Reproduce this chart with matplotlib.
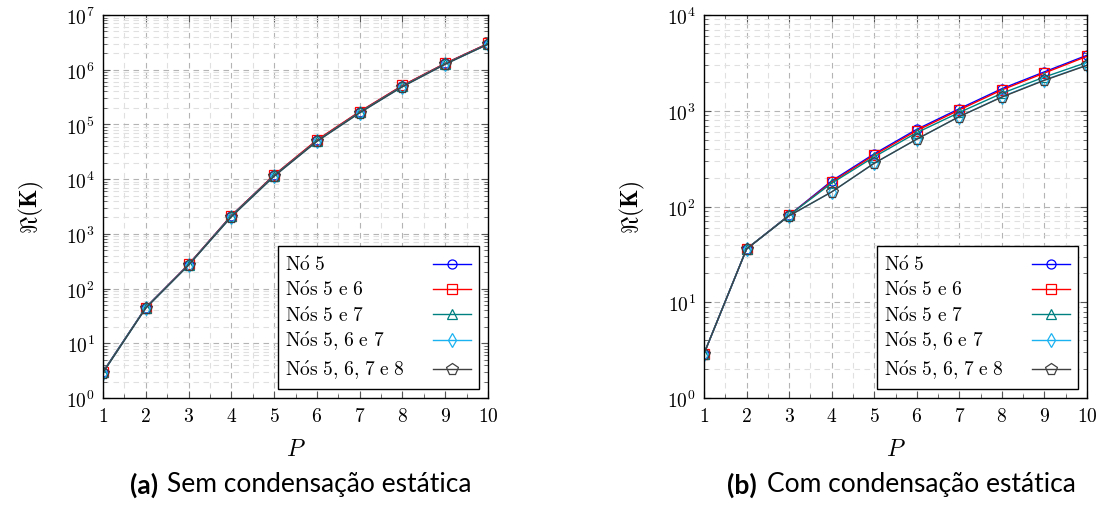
import numpy as np
import matplotlib
matplotlib.use("Agg")
import matplotlib.pyplot as plt
from matplotlib.ticker import LogLocator, FixedLocator, NullFormatter

plt.rcParams['mathtext.fontset'] = 'cm'
plt.rcParams['font.family'] = ['Lato', 'DejaVu Sans']

P = [1, 2, 3, 4, 5, 6, 7, 8, 9, 10]
P_minor = [1.5, 2.5, 3.5, 4.5, 5.5, 6.5, 7.5, 8.5, 9.5]

names = [r'$\mathrm{N\acute{o}\ 5}$',
         r'$\mathrm{N\acute{o}s\ 5\ e\ 6}$',
         r'$\mathrm{N\acute{o}s\ 5\ e\ 7}$',
         r'$\mathrm{N\acute{o}s\ 5{,}\ 6\ e\ 7}$',
         r'$\mathrm{N\acute{o}s\ 5{,}\ 6{,}\ 7\ e\ 8}$']

# (a) sem condensacao estatica
sem_no5 = [3.0, 45, 275, 2150, 11800, 51000, 170000, 510000, 1.30e6, 3.00e6]
sem_no56 = [3.0, 45, 276, 2160, 11900, 52000, 172000, 515000, 1.31e6, 3.02e6]
sem_no57 = [3.0, 45, 272, 2120, 11600, 50000, 167000, 500000, 1.28e6, 2.95e6]
sem_no567 = [2.9, 44, 268, 2050, 11300, 49000, 163000, 490000, 1.26e6, 2.92e6]
sem_no5678 = [2.9, 44, 268, 2050, 11300, 49000, 163000, 490000, 1.26e6, 2.92e6]

# (b) com condensacao estatica
com_no5 = [2.9, 36, 81, 185, 355, 640, 1050, 1700, 2550, 3800]
com_no56 = [2.9, 36, 81, 180, 345, 620, 1020, 1650, 2480, 3700]
com_no57 = [2.9, 36, 81, 175, 330, 590, 960, 1520, 2250, 3200]
com_no567 = [2.9, 36, 80, 142, 283, 505, 870, 1400, 2100, 3000]
com_no5678 = [2.9, 36, 80, 142, 283, 505, 870, 1390, 2080, 2980]

colors = ['#0000ff', '#ff0000', '#008080', '#1ab2f0', '#404040']
markers = ['o', 's', '^', 'd', 'p']
msizes = [6.5, 6.5, 7.5, 7.5, 8.5]

fig = plt.figure(figsize=(11.01, 5.06), dpi=100)
ax1 = fig.add_axes([103 / 1101, 107 / 506, 385 / 1101, 383 / 506])
ax2 = fig.add_axes([704 / 1101, 107 / 506, 383 / 1101, 383 / 506])


def draw(ax, series, ymax):
    for s, name, c, m, ms in zip(series, names, colors, markers, msizes):
        ax.plot(P, s, color=c, marker=m, markersize=ms, markerfacecolor='none',
                markeredgewidth=0.9, linewidth=1.0, label=name)
    ax.set_yscale('log')
    ax.set_xlim(1, 10)
    ax.set_ylim(1, 10 ** ymax)
    ax.xaxis.set_major_locator(FixedLocator(P))
    ax.xaxis.set_minor_locator(FixedLocator(P_minor))
    ax.yaxis.set_major_locator(FixedLocator([10 ** k for k in range(ymax + 1)]))
    ax.yaxis.set_minor_locator(LogLocator(base=10, subs=np.arange(2, 10), numticks=20))
    ax.yaxis.set_minor_formatter(NullFormatter())
    ax.set_yticklabels([r'$10^{%d}$' % k for k in range(ymax + 1)])
    ax.set_xticklabels([r'$%d$' % p for p in P])
    ax.grid(which='major', color='#b4b4b4', linestyle=(0, (5, 4)), linewidth=0.8)
    ax.grid(which='minor', color='#e0e0e0', linestyle=(0, (5, 4)), linewidth=0.8)
    ax.set_axisbelow(True)
    ax.tick_params(which='both', direction='in', top=True, right=True,
                   labelsize=14, color='#555555')
    ax.tick_params(which='major', length=5, pad=6)
    ax.tick_params(which='minor', length=3)
    for sp in ax.spines.values():
        sp.set_linewidth(1.0)
    ax.set_xlabel(r'$P$', fontsize=17, labelpad=10)
    ax.set_ylabel(r'$\Re(\mathbf{K})$', fontsize=17, labelpad=14)
    leg = ax.legend(loc='lower right', markerfirst=False, fancybox=False,
                    edgecolor='black', framealpha=1, fontsize=14,
                    handlelength=2.0, borderaxespad=0.45, labelspacing=0.3,
                    borderpad=0.4, handletextpad=1.4)
    leg.get_frame().set_linewidth(1.0)
    return leg


legs = [draw(ax1, [sem_no5, sem_no56, sem_no57, sem_no567, sem_no5678], 7),
        draw(ax2, [com_no5, com_no56, com_no57, com_no567, com_no5678], 4)]

# left-align legend labels: pad each row so the handles stay in one column
fig.canvas.draw()
renderer = fig.canvas.get_renderer()
for leg in legs:
    texts = leg.get_texts()
    widths = [t.get_window_extent(renderer).width * 72 / fig.dpi for t in texts]
    wmax = max(widths)
    rows = leg._legend_handle_box.get_children()[0].get_children()
    for row, w in zip(rows, widths):
        row.sep = row.sep + (wmax - w)

cy = 1 - 485 / 506
fig.text(130 / 1101, cy, '(a)', fontsize=19, fontweight='bold', ha='left', va='center')
fig.text(167 / 1101, cy, 'Sem condensação estática', fontsize=19, ha='left', va='center')
fig.text(727 / 1101, cy, '(b)', fontsize=19, fontweight='bold', ha='left', va='center')
fig.text(767 / 1101, cy, 'Com condensação estática', fontsize=19, ha='left', va='center')

fig.savefig('out.png', dpi=100)
